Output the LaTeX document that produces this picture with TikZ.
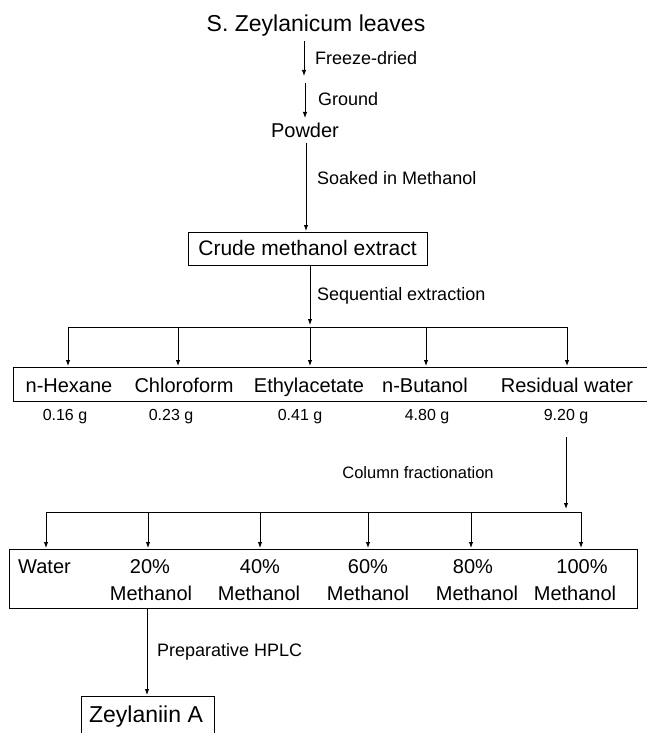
\documentclass[tikz,border=0pt]{standalone}
\usepackage{fontspec}
\setmainfont{Liberation Sans}
\usetikzlibrary{arrows.meta}
\tikzset{
  arr/.style={-{Latex[length=6pt,width=4.5pt]}, line width=1pt},
  ln/.style={line width=1pt},
  frame/.style={line width=1pt},
  big/.style={font=\fontsize{23}{27}\selectfont, inner sep=0pt, anchor=base},
  mid/.style={font=\fontsize{20.5}{24}\selectfont, inner sep=0pt, anchor=base},
  rowtxt/.style={font=\fontsize{20}{24}\selectfont, inner sep=0pt, anchor=base},
  lbl/.style={font=\fontsize{18}{21}\selectfont, inner sep=0pt, anchor=base west},
  val/.style={font=\fontsize{16}{19}\selectfont, inner sep=0pt, anchor=base},
}
\begin{document}
\begin{tikzpicture}[x=1pt,y=-1pt]
\useasboundingbox (0,0) rectangle (646,733);
\fill[white] (0,0) rectangle (646,733);

% top chain
\node[big] (title) at (316,32) {S. Zeylanicum leaves};
\coordinate (a1s) at (304,41);
\coordinate (a1e) at (304,76);
\draw[arr] (a1s) -- (a1e);
\node[lbl] (fd) at (315,65) {Freeze-dried};
\coordinate (a2s) at (305,83);
\coordinate (a2e) at (305,118);
\draw[arr] (a2s) -- (a2e);
\node[lbl] (gr) at (318,106) {Ground};
\node[mid,font=\fontsize{20}{24}\selectfont] (powder) at (305,137) {Powder};
\coordinate (a3s) at (306,143);
\coordinate (a3e) at (306,231);
\draw[arr] (a3s) -- (a3e);
\node[lbl] (soak) at (317,184) {Soaked in Methanol};

% crude box
\node[mid,font=\fontsize{21}{25}\selectfont] (crude) at (307.5,255) {Crude methanol extract};
\draw[frame] (188,232) rectangle (427,265);
\coordinate (a4s) at (310,265);
\coordinate (a4e) at (310,325);
\draw[arr] (a4s) -- (a4e);
\node[lbl] (seq) at (317,300) {Sequential extraction};

% branch 1
\draw[ln] (68,327) -- (567,327);
\foreach \x/\n in {68/b1,178/b2,310/b3,426/b4,567/b5}{
  \coordinate (\n) at (\x,327);
  \coordinate (\n e) at (\x,366);
  \draw[arr] (\n) -- (\n e);
}
% row 1 frame (open to the right)
\draw[frame] (660,367) -- (13,367) -- (13,401) -- (660,401);
\node[rowtxt] (hex) at (69,392) {n-Hexane};
\node[rowtxt] (chl) at (184,392) {Chloroform};
\node[rowtxt] (eth) at (309,392) {Ethylacetate};
\node[rowtxt] (but) at (425,392) {n-Butanol};
\node[rowtxt] (res) at (567,392) {Residual water};
\node[val] (v1) at (65,420) {0.16 g};
\node[val] (v2) at (171,420) {0.23 g};
\node[val] (v3) at (300,420) {0.41 g};
\node[val] (v4) at (427,420) {4.80 g};
\node[val] (v5) at (566,420) {9.20 g};

% column fractionation
\coordinate (c1s) at (566,437);
\coordinate (c1e) at (566,509);
\draw[arr] (c1s) -- (c1e);
\node[lbl,anchor=base,font=\fontsize{16.5}{20}\selectfont] (colf) at (418,478) {Column fractionation};

\draw[ln] (46,512) -- (581,512);
\foreach \x/\n in {46/d1,148/d2,260/d3,368/d4,471/d5,581/d6}{
  \coordinate (\n) at (\x,512);
  \coordinate (\n e) at (\x,548);
  \draw[arr] (\n) -- (\n e);
}
\draw[frame] (9,549) rectangle (637,608);
\node[rowtxt,anchor=base west] (w) at (18,573) {Water};
\node[rowtxt] (p20) at (150,573) {20\%};
\node[rowtxt] (m20) at (151,600) {Methanol};
\node[rowtxt] (p40) at (260,573) {40\%};
\node[rowtxt] (m40) at (259,600) {Methanol};
\node[rowtxt] (p60) at (368,573) {60\%};
\node[rowtxt] (m60) at (368,600) {Methanol};
\node[rowtxt] (p80) at (473,573) {80\%};
\node[rowtxt] (m80) at (477,600) {Methanol};
\node[rowtxt] (p100) at (582,573) {100\%};
\node[rowtxt] (m100) at (575,600) {Methanol};

% HPLC
\coordinate (h1s) at (147,608);
\coordinate (h1e) at (147,695);
\draw[arr] (h1s) -- (h1e);
\node[lbl] (hplc) at (157,656) {Preparative HPLC};
\draw[frame] (81,745) -- (81,696) -- (214,696) -- (214,745);
\node[big] (zey) at (146,722) {Zeylaniin A};
\end{tikzpicture}
\end{document}
